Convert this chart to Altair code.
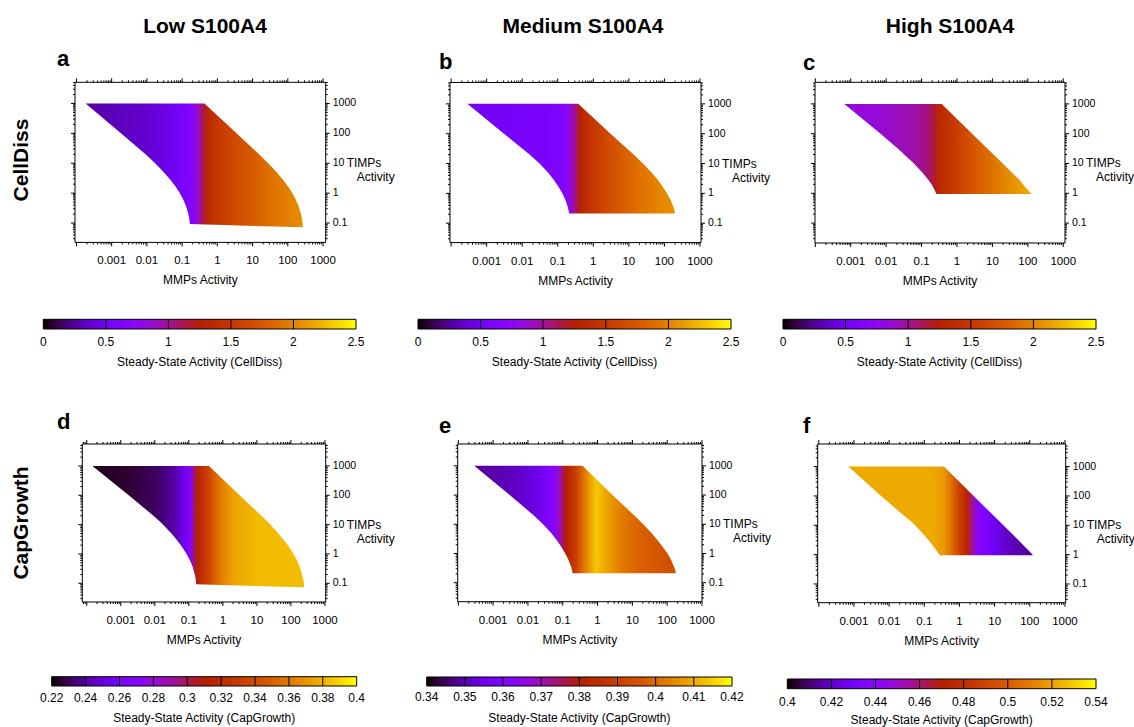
import math
import pandas as pd
import altair as alt

FONT = "Liberation Sans"

# ---------------- values ----------------
COLUMN_HEADERS = ["Low S100A4", "Medium S100A4", "High S100A4"]
ROW_LABELS = ["CellDiss", "CapGrowth"]
PANEL_IDS = ["a", "b", "c", "d", "e", "f"]

X_TICK_VALUES = [0.001, 0.01, 0.1, 1, 10, 100, 1000]
X_TICK_LABELS = ["0.001", "0.01", "0.1", "1", "10", "100", "1000"]
Y_TICK_VALUES = [1000, 100, 10, 1, 0.1]
Y_TICK_LABELS = ["1000", "100", "10", "1", "0.1"]
X_TITLE = "MMPs Activity"
Y_TITLE_1 = "TIMPs"
Y_TITLE_2 = "Activity"

# region outline: for each TIMPs level, the lowest and highest MMPs activity
A_TIMPS = [1000, 100, 20, 10, 5, 2.8, 1.6, 1.0, 0.6, 0.36, 0.2, 0.129, 0.0926, 0.0718]
A_MMP_LO = [1.83e-4, 1.83e-3, 9.15e-3, 0.0172, 0.0301, 0.0463, 0.0666, 0.0862, 0.1085, 0.130, 0.150, 0.161, 0.166, 265]
A_MMP_HI = [0.43, 3.5, 15.2, 27.7, 48.3, 73.3, 104, 135, 170, 203, 237, 256, 265, 265]

B_TIMPS = [1000, 104, 20, 10.3, 5, 2.84, 1.7, 1.01, 0.6, 0.362, 0.26, 0.211]
B_MMP_LO = [2.86e-4, 2.95e-3, 0.0161, 0.0302, 0.053, 0.077, 0.104, 0.134, 0.164, 0.19, 0.202, 0.207]
B_MMP_HI = [0.377, 2.94, 13.6, 24.4, 43.5, 64.7, 89, 118.5, 149.8, 177.8, 192.6, 198]

C_TIMPS = [1000, 104, 30, 10.3, 5, 2.84, 2, 1.49, 1.2, 0.95]
C_MMP_LO = [6.6e-4, 6.7e-3, 0.0224, 0.0588, 0.105, 0.154, 0.19, 0.22, 0.241, 0.262]
C_MMP_HI = [0.37, 2.59, 7.55, 18.9, 35.3, 57.4, 73, 90, 106, 128]

D_TIMPS = [1000, 102, 20, 11.1, 5, 3.0, 1.8, 1.05, 0.6, 0.37, 0.2, 0.13, 0.0925, 0.073]
D_MMP_LO = [1.47e-4, 1.68e-3, 9.13e-3, 0.016, 0.0308, 0.0445, 0.0617, 0.0834, 0.108, 0.1285, 0.150, 0.160, 0.1645, 243]
D_MMP_HI = [0.39, 3.04, 13.6, 22.8, 42.8, 61.8, 85.7, 115.9, 150, 179.4, 213, 232, 242, 243]

E_TIMPS = [1000, 100, 20, 10.5, 5, 2.8, 1.6, 0.975, 0.6, 0.338, 0.26, 0.21]
E_MMP_LO = [2.86e-4, 3.0e-3, 0.0148, 0.0264, 0.0464, 0.068, 0.0935, 0.1186, 0.147, 0.176, 0.186, 0.191]
E_MMP_HI = [0.372, 2.68, 11.4, 19.8, 35.6, 53.7, 76.8, 104, 130, 159, 170, 178]

F_TIMPS = [1000, 108, 30, 11.7, 6, 3.16, 2.2, 1.64, 1.25, 0.95]
F_MMP_LO = [6.9e-4, 5.5e-3, 0.0188, 0.0481, 0.082, 0.130, 0.1656, 0.200, 0.235, 0.273]
F_MMP_HI = [0.362, 2.37, 7.0, 15.5, 27.3, 47, 62.8, 79.5, 100, 124]

# steady-state activity along MMPs activity (colour of the region)
A_PROF_MMP = [1.83e-4, 1e-3, 1e-2, 0.05, 0.1, 0.18, 0.28, 0.4, 0.55, 0.8, 2, 8, 40, 265]
A_PROF_VAL = [0.28, 0.32, 0.38, 0.48, 0.56, 0.63, 0.85, 1.15, 1.35, 1.45, 1.6, 1.75, 1.92, 2.05]

B_PROF_MMP = [2.86e-4, 1e-3, 0.01, 0.05, 0.12, 0.2, 0.3, 0.42, 0.6, 1, 3, 25, 198]
B_PROF_VAL = [0.5, 0.52, 0.55, 0.58, 0.62, 0.75, 1.0, 1.25, 1.38, 1.5, 1.68, 1.93, 2.08]

C_PROF_MMP = [6.6e-4, 6.7e-3, 0.059, 0.14, 0.22, 0.3, 0.8, 4.4, 38, 128]
C_PROF_VAL = [0.83, 0.86, 0.96, 1.04, 1.15, 1.33, 1.52, 1.8, 2.07, 2.2]

D_PROF_MMP = [1.47e-4, 1.2e-3, 0.011, 0.035, 0.07, 0.11, 0.15, 0.17, 0.34, 0.82, 2, 10, 243]
D_PROF_VAL = [0.223, 0.225, 0.231, 0.240, 0.254, 0.267, 0.299, 0.31, 0.332, 0.36, 0.375, 0.382, 0.383]

E_PROF_MMP = [2.86e-4, 0.003, 0.017, 0.041, 0.064, 0.09, 0.124, 0.24, 0.46, 0.9, 1.7, 5.1, 19, 112, 178]
E_PROF_VAL = [0.348, 0.3504, 0.3544, 0.36, 0.364, 0.372, 0.38, 0.3896, 0.404, 0.4136, 0.4096, 0.4024, 0.3976, 0.3944, 0.3944]

F_PROF_MMP = [6.9e-4, 0.18, 0.35, 0.53, 1.03, 1.6, 2.2, 3.06, 4.75, 9.2, 34, 124]
F_PROF_VAL = [0.522, 0.522, 0.518, 0.509, 0.487, 0.474, 0.459, 0.442, 0.435, 0.428, 0.418, 0.414]

# colour bars
CB_CELL_VALUES = [0, 0.5, 1, 1.5, 2, 2.5]
CB_CELL_LABELS = ["0", "0.5", "1", "1.5", "2", "2.5"]
CB_D_VALUES = [0.22, 0.24, 0.26, 0.28, 0.30, 0.32, 0.34, 0.36, 0.38, 0.40]
CB_D_LABELS = ["0.22", "0.24", "0.26", "0.28", "0.3", "0.32", "0.34", "0.36", "0.38", "0.4"]
CB_E_VALUES = [0.34, 0.35, 0.36, 0.37, 0.38, 0.39, 0.40, 0.41, 0.42]
CB_E_LABELS = ["0.34", "0.35", "0.36", "0.37", "0.38", "0.39", "0.4", "0.41", "0.42"]
CB_F_VALUES = [0.40, 0.42, 0.44, 0.46, 0.48, 0.50, 0.52, 0.54]
CB_F_LABELS = ["0.4", "0.42", "0.44", "0.46", "0.48", "0.5", "0.52", "0.54"]
CB_TITLE_CELL = "Steady-State Activity (CellDiss)"
CB_TITLE_CAP = "Steady-State Activity (CapGrowth)"

SHAPES = {
    "a": (A_TIMPS, A_MMP_LO, A_MMP_HI, A_PROF_MMP, A_PROF_VAL, CB_CELL_VALUES),
    "b": (B_TIMPS, B_MMP_LO, B_MMP_HI, B_PROF_MMP, B_PROF_VAL, CB_CELL_VALUES),
    "c": (C_TIMPS, C_MMP_LO, C_MMP_HI, C_PROF_MMP, C_PROF_VAL, CB_CELL_VALUES),
    "d": (D_TIMPS, D_MMP_LO, D_MMP_HI, D_PROF_MMP, D_PROF_VAL, CB_D_VALUES),
    "e": (E_TIMPS, E_MMP_LO, E_MMP_HI, E_PROF_MMP, E_PROF_VAL, CB_E_VALUES),
    "f": (F_TIMPS, F_MMP_LO, F_MMP_HI, F_PROF_MMP, F_PROF_VAL, CB_F_VALUES),
}
COLORBARS = {
    "a": (CB_CELL_VALUES, CB_CELL_LABELS, CB_TITLE_CELL),
    "b": (CB_CELL_VALUES, CB_CELL_LABELS, CB_TITLE_CELL),
    "c": (CB_CELL_VALUES, CB_CELL_LABELS, CB_TITLE_CELL),
    "d": (CB_D_VALUES, CB_D_LABELS, CB_TITLE_CAP),
    "e": (CB_E_VALUES, CB_E_LABELS, CB_TITLE_CAP),
    "f": (CB_F_VALUES, CB_F_LABELS, CB_TITLE_CAP),
}

# ---------------- layout / style ----------------
PANEL_GEOM = {
    "a": dict(x0=75, x1=325.7, y0=82.3, y1=242.4, xdom=(9.1e-5, 1190), ydom=(0.0225, 5100), letter=(57, 66)),
    "b": dict(x0=450, x1=701, y0=82.5, y1=242.6, xdom=(9.3e-5, 1070), ydom=(0.0224, 5200), letter=(439, 69)),
    "c": dict(x0=815, x1=1065, y0=82.3, y1=243, xdom=(9.8e-5, 1120), ydom=(0.0215, 5300), letter=(803, 70)),
    "d": dict(x0=82.3, x1=325.7, y0=444, y1=602, xdom=(7.4e-5, 1050), ydom=(0.023, 5600), letter=(57, 429)),
    "e": dict(x0=457.7, x1=702, y0=444, y1=601.7, xdom=(9.6e-5, 1000), ydom=(0.0224, 5600), letter=(439, 433)),
    "f": dict(x0=817.7, x1=1065.7, y0=444, y1=602.7, xdom=(9.3e-5, 1050), ydom=(0.023, 5900), letter=(803, 433)),
}
CB_GEOM = {
    "a": dict(x0=43.3, x1=356, y0=319.3, y1=329, label_y=341.7, title_y=361.7),
    "b": dict(x0=418, x1=731, y0=319.3, y1=329, label_y=341.7, title_y=361.7),
    "c": dict(x0=783, x1=1096, y0=319.3, y1=329, label_y=341.7, title_y=361.7),
    "d": dict(x0=51.7, x1=356.7, y0=676.7, y1=686, label_y=698.3, title_y=717.5),
    "e": dict(x0=426.7, x1=732, y0=677, y1=686, label_y=696.7, title_y=718),
    "f": dict(x0=787.3, x1=1096, y0=679, y1=688.7, label_y=701.7, title_y=719.5),
}
HEADER_POS = [(205, 27), (583, 27), (950, 27)]
ROW_LABEL_POS = [(22, 160), (22, 523)]
MAJOR_LEN, MINOR_LEN = 4, 2
X_LABEL_SIZE, Y_LABEL_SIZE = 11.5, 10.5


def palette_color(t):
    """gnuplot default pm3d palette (rgbformulae 7,5,15)."""
    t = min(1.0, max(0.0, t))
    r = math.sqrt(t)
    g = t ** 3
    b = min(1.0, max(0.0, math.sin(2 * math.pi * t)))
    return "#%02x%02x%02x" % (round(r * 255), round(g * 255), round(b * 255))


def log_ticks(lo, hi):
    out = []
    for k in range(-6, 6):
        for m in range(1, 10):
            v = float(f"{m}e{k}")
            if lo <= v <= hi:
                out.append((v, m == 1))
    return pd.DataFrame(out, columns=["v", "major"])


def text_chart(txt, x, y, size=12, bold=False, align="center", baseline="middle", angle=0):
    kw = dict(font=FONT, fontSize=size, color="black", align=align, baseline=baseline)
    if bold:
        kw["fontWeight"] = "bold"
    if angle:
        kw["angle"] = angle
    return alt.Chart(pd.DataFrame({"t": [txt]})).mark_text(**kw).encode(
        x=alt.value(x), y=alt.value(y), text="t:N")


def panel(pid):
    g = PANEL_GEOM[pid]
    timps, lo, hi, pmmp, pval, cbvals = SHAPES[pid]
    vlo, vhi = cbvals[0], cbvals[-1]
    xs = alt.Scale(type="log", domain=list(g["xdom"]), range=[g["x0"], g["x1"]], nice=False)
    ys = alt.Scale(type="log", domain=list(g["ydom"]), range=[g["y1"], g["y0"]], nice=False)

    def X(f):
        return alt.X(f, type="quantitative", scale=xs, axis=None)

    def Y(f):
        return alt.Y(f, type="quantitative", scale=ys, axis=None)

    l0, l1 = math.log10(min(lo)), math.log10(max(hi))
    stops = []
    for xv, vv in zip(pmmp, pval):
        off = min(1.0, max(0.0, (math.log10(xv) - l0) / (l1 - l0)))
        stops.append(alt.GradientStop(offset=off, color=palette_color((vv - vlo) / (vhi - vlo))))
    grad = alt.LinearGradient(gradient="linear", stops=stops, x1=0, x2=1, y1=0, y2=0)

    layers = []
    shape_df = pd.DataFrame({"timps": timps, "lo": lo, "hi": hi})
    layers.append(alt.Chart(shape_df).mark_area(orient="horizontal", interpolate="linear", fill=grad).encode(
        y=Y("timps"), x=X("lo"), x2=alt.X2("hi")))

    frame_df = pd.DataFrame({"x0": [g["xdom"][0]], "x1": [g["xdom"][1]],
                             "y0": [g["ydom"][0]], "y1": [g["ydom"][1]]})
    layers.append(alt.Chart(frame_df).mark_rect(filled=False, stroke="black", strokeWidth=1).encode(
        x=X("x0"), x2=alt.X2("x1"), y=Y("y0"), y2=alt.Y2("y1")))

    xt = log_ticks(*g["xdom"])
    yt = log_ticks(*g["ydom"])
    for major, length in ((True, MAJOR_LEN), (False, MINOR_LEN)):
        sx = xt[xt.major == major][["v"]]
        sy = yt[yt.major == major][["v"]]
        layers.append(alt.Chart(sx).mark_rule(color="black", strokeWidth=1).encode(
            x=X("v"), y=alt.value(g["y1"]), y2=alt.value(g["y1"] + length)))
        layers.append(alt.Chart(sx).mark_rule(color="black", strokeWidth=1).encode(
            x=X("v"), y=alt.value(g["y0"] - length), y2=alt.value(g["y0"])))
        layers.append(alt.Chart(sy).mark_rule(color="black", strokeWidth=1).encode(
            y=Y("v"), x=alt.value(g["x1"]), x2=alt.value(g["x1"] + length)))
        layers.append(alt.Chart(sy).mark_rule(color="black", strokeWidth=1).encode(
            y=Y("v"), x=alt.value(g["x0"] - length), x2=alt.value(g["x0"])))

    xl = pd.DataFrame({"v": X_TICK_VALUES, "t": X_TICK_LABELS})
    layers.append(alt.Chart(xl).mark_text(font=FONT, fontSize=X_LABEL_SIZE, color="black", align="center",
                                          baseline="middle").encode(
        x=X("v"), y=alt.value(g["y1"] + 19), text="t:N"))
    yl = pd.DataFrame({"v": Y_TICK_VALUES, "t": Y_TICK_LABELS})
    layers.append(alt.Chart(yl).mark_text(font=FONT, fontSize=Y_LABEL_SIZE, color="black", align="left",
                                          baseline="middle").encode(
        y=Y("v"), x=alt.value(g["x1"] + 7), text="t:N"))
    yt1 = pd.DataFrame({"v": [10], "t": [Y_TITLE_1]})
    layers.append(alt.Chart(yt1).mark_text(font=FONT, fontSize=12, color="black", align="left",
                                           baseline="middle").encode(
        y=Y("v"), x=alt.value(g["x1"] + 21), text="t:N"))
    yt2 = pd.DataFrame({"v": [10], "t": [Y_TITLE_2]})
    layers.append(alt.Chart(yt2).mark_text(font=FONT, fontSize=12, color="black", align="left",
                                           baseline="middle", dy=14).encode(
        y=Y("v"), x=alt.value(g["x1"] + 31), text="t:N"))
    layers.append(text_chart(X_TITLE, (g["x0"] + g["x1"]) / 2, g["y1"] + 38))
    lx, ly = g["letter"]
    layers.append(text_chart(pid, lx, ly, size=22, bold=True, align="left", baseline="alphabetic"))
    return alt.layer(*layers)


def colorbar(pid):
    g = CB_GEOM[pid]
    vals, labels, title = COLORBARS[pid]
    xs = alt.Scale(type="linear", domain=[vals[0], vals[-1]], range=[g["x0"], g["x1"]], nice=False, zero=False)
    ys = alt.Scale(type="linear", domain=[0, 1], range=[g["y1"], g["y0"]], nice=False, zero=False)
    n = 40
    stops = [alt.GradientStop(offset=i / n, color=palette_color(i / n)) for i in range(n + 1)]
    grad = alt.LinearGradient(gradient="linear", stops=stops, x1=0, x2=1, y1=0, y2=0)
    bar_df = pd.DataFrame({"x0": [vals[0]], "x1": [vals[-1]], "y0": [0], "y1": [1]})
    bar = alt.Chart(bar_df).mark_rect(fill=grad, stroke="black", strokeWidth=1).encode(
        x=alt.X("x0:Q", scale=xs, axis=None), x2=alt.X2("x1"),
        y=alt.Y("y0:Q", scale=ys, axis=None), y2=alt.Y2("y1"))
    div_df = pd.DataFrame({"v": vals[1:-1], "y0": 0, "y1": 1})
    divs = alt.Chart(div_df).mark_rule(color="black", strokeWidth=1).encode(
        x=alt.X("v:Q", scale=xs, axis=None),
        y=alt.Y("y0:Q", scale=ys, axis=None), y2=alt.Y2("y1"))
    lab_df = pd.DataFrame({"v": vals, "t": labels})
    labs = alt.Chart(lab_df).mark_text(font=FONT, fontSize=12, color="black", align="center",
                                       baseline="middle").encode(
        x=alt.X("v:Q", scale=xs, axis=None), y=alt.value(g["label_y"]), text="t:N")
    ttl = text_chart(title, (g["x0"] + g["x1"]) / 2, g["title_y"])
    return alt.layer(bar, divs, labs, ttl)


all_layers = []
for pid in PANEL_IDS:
    all_layers.append(panel(pid))
for pid in PANEL_IDS:
    all_layers.append(colorbar(pid))
for txt, (x, y) in zip(COLUMN_HEADERS, HEADER_POS):
    all_layers.append(text_chart(txt, x, y, size=21, bold=True))
for txt, (x, y) in zip(ROW_LABELS, ROW_LABEL_POS):
    all_layers.append(text_chart(txt, x, y, size=21, bold=True, angle=270))

chart = (
    alt.layer(*all_layers)
    .resolve_scale(x="independent", y="independent")
    .properties(width=1134, height=727, autosize=alt.AutoSizeParams(type="none"),
                padding=0, background="white")
    .configure_view(stroke=None)
)

chart.save("out.html", embed_options={"renderer": "svg", "actions": False})
